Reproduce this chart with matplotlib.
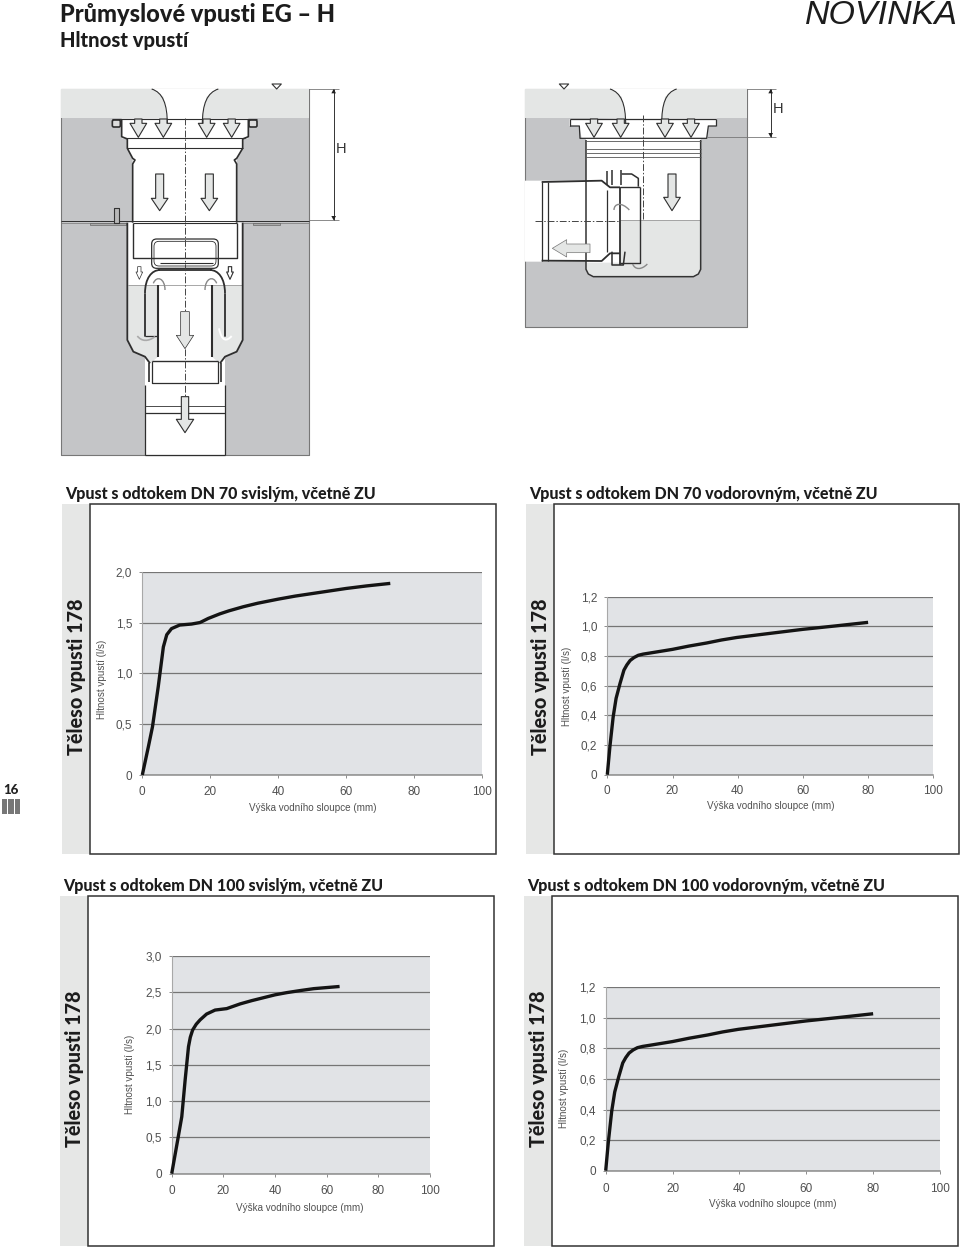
import matplotlib
matplotlib.use("Agg")
import matplotlib.pyplot as plt
from matplotlib.patches import Polygon, Rectangle, FancyBboxPatch, PathPatch
from matplotlib.path import Path

W, H = 960, 1247
DPI = 100

# ---------- data ----------
x_ticks = [0, 20, 40, 60, 80, 100]
x_tick_labels = ['0', '20', '40', '60', '80', '100']

dn70v_x = [0, 1.8, 3.0, 4.7, 6.2, 7.2, 8.6, 11, 14.5, 17, 19.4, 22.8, 25.5, 29.7, 34, 40, 45, 51, 60, 66, 73]
dn70v_y = [0, 0.28, 0.475, 0.87, 1.26, 1.38, 1.44, 1.475, 1.485, 1.5, 1.54, 1.585, 1.615, 1.655, 1.69, 1.73, 1.76, 1.79, 1.835, 1.86, 1.885]
dn70v_ticks = [0, 0.5, 1.0, 1.5, 2.0]
dn70v_labels = ['0', '0,5', '1,0', '1,5', '2,0']

dn70h_x = [0, 0.8, 1.8, 2.7, 3.9, 5.1, 6, 7, 8.2, 9.5, 11, 13, 20, 25, 30.5, 35, 39.7, 50, 60, 70, 80]
dn70h_y = [0, 0.19, 0.39, 0.515, 0.615, 0.705, 0.74, 0.77, 0.79, 0.805, 0.813, 0.82, 0.845, 0.867, 0.888, 0.908, 0.925, 0.953, 0.98, 1.003, 1.027]
dn70h_ticks = [0, 0.2, 0.4, 0.6, 0.8, 1.0, 1.2]
dn70h_labels = ['0', '0,2', '0,4', '0,6', '0,8', '1,0', '1,2']

dn100v_x = [0, 2.3, 3.9, 5.2, 6.5, 7.2, 8.1, 9.5, 11, 13.5, 16.8, 21.3, 26.5, 31, 35.5, 40, 44.5, 50, 55, 60, 65]
dn100v_y = [0, 0.46, 0.785, 1.29, 1.75, 1.88, 1.98, 2.06, 2.12, 2.2, 2.255, 2.275, 2.34, 2.385, 2.425, 2.465, 2.495, 2.525, 2.55, 2.565, 2.58]
dn100v_ticks = [0, 0.5, 1.0, 1.5, 2.0, 2.5, 3.0]
dn100v_labels = ['0', '0,5', '1,0', '1,5', '2,0', '2,5', '3,0']

dn100h_x = [0, 0.8, 1.8, 2.7, 3.9, 5.1, 6, 7, 8.2, 9.5, 11, 13, 20, 25, 30.5, 35, 39.7, 50, 60, 70, 80]
dn100h_y = [0, 0.19, 0.39, 0.515, 0.615, 0.705, 0.74, 0.77, 0.79, 0.805, 0.813, 0.82, 0.845, 0.867, 0.888, 0.908, 0.925, 0.953, 0.98, 1.003, 1.027]
dn100h_ticks = [0, 0.2, 0.4, 0.6, 0.8, 1.0, 1.2]
dn100h_labels = ['0', '0,2', '0,4', '0,6', '0,8', '1,0', '1,2']

x_label = 'Výška vodního sloupce (mm)'
y_label = 'Hltnost vpustí (l/s)'
strip_label = 'Těleso vpusti 178'
titles = ['Vpust s odtokem DN 70 svislým, včetně ZU',
          'Vpust s odtokem DN 70 vodorovným, včetně ZU',
          'Vpust s odtokem DN 100 svislým, včetně ZU',
          'Vpust s odtokem DN 100 vodorovným, včetně ZU']

# ---------- colours ----------
CONC = '#c4c5c7'
WATER = '#e4e6e5'
INK = '#2e2e2e'
PLOT = '#e1e3e6'
STRIP = '#e6e7e6'
TXT = '#505050'
HEAD = 'Lato'

fig = plt.figure(figsize=(W / DPI, H / DPI), dpi=DPI, facecolor='white')
ov = fig.add_axes([0, 0, 1, 1], zorder=0)
ov.set_xlim(0, W)
ov.set_ylim(H, 0)
ov.axis('off')


def make_z(ox, oy):
    return lambda pts: [(ox + x / 3, oy + y / 3) for x, y in pts]


def poly(z, pts, fc='none', ec='none', lw=1.0, zo=2, closed=True):
    ov.add_patch(Polygon(z(pts), closed=closed, facecolor=fc, edgecolor=ec, linewidth=lw,
                         zorder=zo, joinstyle='round'))


def line(z, pts, c=INK, lw=1.0, zo=4, ls='-'):
    p = z(pts)
    ov.plot([a for a, _ in p], [b for _, b in p], color=c, lw=lw, zorder=zo, ls=ls,
            solid_capstyle='butt', solid_joinstyle='round')


def curve(z, verts, codes, fc='none', ec=INK, lw=1.0, zo=4):
    ov.add_patch(PathPatch(Path(z(verts), codes), facecolor=fc, edgecolor=ec, linewidth=lw, zorder=zo))


def arrow_down(z, cx, top, bot, stem, head, headstart, fc=WATER, zo=6, lw=0.8):
    s, h = stem / 2, head / 2
    poly(z, [(cx - s, top), (cx + s, top), (cx + s, headstart), (cx + h, headstart), (cx, bot),
             (cx - h, headstart), (cx - s, headstart)], fc=fc, ec=INK, lw=lw, zo=zo)


def arrow_left(z, cy, right, left, stem, head, headstart, fc=WATER, zo=6, lw=0.5):
    s, h = stem / 2, head / 2
    poly(z, [(right, cy - s), (right, cy + s), (headstart, cy + s), (headstart, cy + h), (left, cy),
             (headstart, cy - h), (headstart, cy - s)], fc=fc, ec='#777777', lw=lw, zo=zo)


def dim(z, x, y0, y1):
    line(z, [(x, y0), (x, y1)], c='#333333', lw=0.7)
    poly(z, [(x - 7, y0 + 13), (x + 7, y0 + 13), (x, y0)], fc='#222222', zo=5)
    poly(z, [(x - 7, y1 - 13), (x + 7, y1 - 13), (x, y1)], fc='#222222', zo=5)


C = [Path.MOVETO, Path.CURVE4, Path.CURVE4, Path.CURVE4]

# ---------- drawing 1 (DN 70 vertical) ----------
z = make_z(50, 70)
poly(z, [(32, 57), (778, 57), (778, 1155), (32, 1155)], fc=CONC, ec='#777777', lw=0.8, zo=1)
poly(z, [(32, 57), (778, 57), (778, 145), (32, 145)], fc=WATER, zo=1.5)
poly(z, [(305, 57), (505, 57), (470, 80), (457, 145), (595, 145), (595, 205), (578, 205), (578, 235),
         (560, 265), (560, 458), (578, 458), (578, 810), (560, 845), (525, 860), (525, 1155),
         (285, 1155), (285, 860), (250, 845), (232, 810), (232, 458), (248, 458), (248, 265),
         (232, 235), (232, 205), (215, 205), (215, 145), (350, 145), (340, 80)],
     fc='white', zo=2)
poly(z, [(235, 645), (575, 645), (575, 810), (560, 843), (525, 858), (510, 880), (485, 860), (485, 645),
         (325, 645), (325, 860), (300, 880), (285, 858), (250, 843), (235, 810)], fc=WATER, zo=2.5)
line(z, [(235, 645), (575, 645)], c='#999999', lw=0.6)
curve(z, [(305, 57), (338, 68), (352, 100), (352, 165)], C, lw=0.8)
curve(z, [(505, 57), (472, 68), (457, 100), (457, 165)], C, lw=0.8)
line(z, [(185, 148), (622, 148)], lw=0.8)
line(z, [(215, 150), (215, 200), (232, 207), (232, 235), (248, 265), (255, 270), (248, 282), (248, 458)], lw=1.2)
line(z, [(595, 150), (595, 200), (578, 207), (578, 235), (560, 265), (553, 270), (560, 282), (560, 458)], lw=1.2)
line(z, [(225, 205), (585, 205)], lw=0.8)
line(z, [(232, 235), (578, 235)], lw=0.8)
ov.add_patch(FancyBboxPatch((50 + 187 / 3, 70 + 150 / 3), 8, 7, boxstyle='round,pad=0,rounding_size=1.5',
                            fc='#dddddd', ec=INK, lw=1.2, zorder=4))
ov.add_patch(FancyBboxPatch((50 + 597 / 3, 70 + 150 / 3), 8, 7, boxstyle='round,pad=0,rounding_size=1.5',
                            fc='#dddddd', ec=INK, lw=1.2, zorder=4))
for cx in (265, 340, 470, 545):
    arrow_down(z, cx, 147, 202, 22, 50, 160)
arrow_down(z, 329, 312, 422, 24, 50, 385)
arrow_down(z, 478, 312, 422, 24, 50, 385)
arrow_down(z, 405, 725, 836, 26, 52, 796, lw=0.5)
arrow_down(z, 405, 980, 1088, 22, 52, 1048)
arrow_down(z, 268, 590, 628, 10, 20, 606, fc='white', lw=0.5)
arrow_down(z, 540, 590, 628, 10, 20, 606, fc='white', lw=0.8)
line(z, [(32, 452), (778, 452)], lw=0.7)
line(z, [(32, 458), (232, 458)], c='#777777', lw=0.5)
line(z, [(578, 458), (778, 458)], c='#777777', lw=0.5)
poly(z, [(120, 459), (228, 459), (228, 465), (120, 465)], fc='#aaaaaa', ec='#555555', lw=0.4, zo=4)
poly(z, [(610, 459), (690, 459), (690, 465), (610, 465)], fc='#aaaaaa', ec='#555555', lw=0.4, zo=4)
poly(z, [(192, 415), (208, 415), (208, 458), (192, 458)], fc='#b8b8b8', ec='#333333', lw=0.8, zo=4)
line(z, [(232, 458), (232, 810), (250, 845), (285, 860), (300, 880)], lw=1.3)
line(z, [(578, 458), (578, 810), (560, 845), (525, 860), (510, 880)], lw=1.3)
line(z, [(248, 458), (248, 563), (560, 563), (560, 458)], lw=1.0)
line(z, [(248, 458), (560, 458)], lw=0.8)
for pad, lw in ((0, 0.9), (7, 0.6)):
    ov.add_patch(FancyBboxPatch((50 + (305 + pad) / 3, 70 + (507 + pad) / 3), (200 - 2 * pad) / 3, (88 - 2 * pad) / 3,
                                boxstyle='round,pad=0,rounding_size=5', fc='none', ec=INK, lw=lw, zorder=5))
line(z, [(330, 580), (490, 580)], lw=0.8)
line(z, [(325, 600), (485, 600)], lw=1.3)
curve(z, [(285, 800), (285, 740), (285, 700), (285, 670)], C, lw=1.3)
curve(z, [(285, 670), (285, 625), (305, 600), (330, 600)], C, lw=1.3)
curve(z, [(525, 800), (525, 740), (525, 700), (525, 670)], C, lw=1.3)
curve(z, [(525, 670), (525, 625), (505, 600), (480, 600)], C, lw=1.3)
line(z, [(285, 798), (323, 798)], lw=0.9)
line(z, [(324, 645), (324, 862)], lw=1.5)
line(z, [(487, 645), (487, 862)], lw=1.5)
line(z, [(305, 872), (505, 872)], lw=1.0)
line(z, [(305, 872), (305, 940), (505, 940), (505, 872)], lw=0.9)
line(z, [(296, 880), (296, 935)], lw=1.2)
line(z, [(514, 880), (514, 935)], lw=1.2)
line(z, [(285, 945), (285, 1155)], lw=0.9)
line(z, [(525, 945), (525, 1155)], lw=0.9)
line(z, [(285, 1007), (525, 1007)], lw=0.6)
line(z, [(285, 1030), (525, 1030)], lw=0.9)
line(z, [(285, 1155), (525, 1155)], lw=0.9)
curve(z, [(310, 640), (320, 615), (345, 625), (345, 660)], C, ec='#888888', lw=1.0, zo=6)
curve(z, [(500, 640), (490, 615), (465, 625), (465, 660)], C, ec='#888888', lw=1.0, zo=6)
curve(z, [(262, 798), (275, 815), (295, 815), (315, 800)], C, ec='#aaaaaa', lw=1.2, zo=6)
curve(z, [(545, 798), (530, 815), (515, 815), (507, 775)], C, ec='white', lw=1.4, zo=6)
line(z, [(404, 145), (404, 978)], c='#444444', lw=0.7, ls=(0, (7, 2, 1.5, 2)), zo=5)
poly(z, [(666, 42), (694, 42), (680, 57)], fc='white', ec='#333333', lw=0.8, zo=5)
line(z, [(778, 57), (868, 57)], c='#777777', lw=0.6)
line(z, [(778, 451), (868, 451)], c='#777777', lw=0.6)
dim(z, 851, 57, 451)
ov.text(50 + 873 / 3, 70 + 238 / 3, 'H', fontsize=10.5, family='Liberation Sans', color='#333333', ha='center', va='center')

# ---------- drawing 2 (DN 70 horizontal) ----------
z = make_z(510, 70)
poly(z, [(45, 57), (710, 57), (710, 772), (45, 772)], fc=CONC, ec='#777777', lw=0.8, zo=1)
poly(z, [(45, 57), (710, 57), (710, 145), (45, 145)], fc=WATER, zo=1.5)
poly(z, [(300, 57), (500, 57), (465, 80), (455, 145), (620, 145), (620, 168), (595, 168), (590, 205), (572, 205),
         (572, 600), (565, 612), (550, 620), (250, 620), (235, 612), (228, 600), (228, 575), (45, 575), (45, 332), (228, 332), (228, 205),
         (215, 205), (208, 168), (178, 168), (178, 148), (345, 145), (335, 80)], fc='white', zo=2)
poly(z, [(330, 450), (570, 450), (570, 598), (563, 610), (548, 618), (252, 618), (237, 610), (230, 598), (230, 578), (330, 578)], fc=WATER, zo=2.5)
line(z, [(330, 450), (570, 450)], c='#999999', lw=0.6)
curve(z, [(300, 57), (333, 68), (347, 100), (347, 165)], C, lw=0.8)
curve(z, [(500, 57), (467, 68), (455, 100), (455, 165)], C, lw=0.8)
line(z, [(180, 148), (618, 148)], lw=0.9)
line(z, [(180, 168), (208, 168), (210, 205), (590, 205), (595, 168), (618, 168)], lw=0.9)
line(z, [(180, 148), (180, 168)], lw=0.9)
line(z, [(618, 148), (618, 168)], lw=0.9)
line(z, [(228, 210), (228, 598), (235, 612), (250, 620), (550, 620), (565, 612), (572, 598), (572, 210)], c='#333333', lw=1.1)
for yy in (212, 238, 248, 262):
    line(z, [(228, yy), (572, yy)], c='#555555', lw=0.6)
for cx in (252, 332, 465, 543):
    arrow_down(z, cx, 147, 202, 22, 50, 160)
arrow_down(z, 486, 312, 422, 24, 50, 382)
poly(z, [(95, 336), (275, 332), (330, 370), (330, 545), (275, 573), (95, 572)], fc='white', zo=3)
line(z, [(95, 336), (275, 332), (300, 352), (330, 352)], lw=1.3)
line(z, [(95, 572), (275, 573), (300, 550), (330, 550)], lw=1.3)
line(z, [(95, 336), (95, 572)], lw=0.9)
line(z, [(115, 336), (115, 572)], lw=0.9)
line(z, [(290, 360), (290, 545)], lw=0.9)
line(z, [(330, 350), (330, 586)], lw=1.3)
line(z, [(390, 350), (390, 580), (330, 580)], lw=1.0)
line(z, [(330, 350), (390, 350)], lw=1.0)
line(z, [(335, 312), (365, 312), (385, 325), (385, 350)], lw=1.1)
line(z, [(292, 302), (292, 345)], lw=1.1)
line(z, [(306, 300), (306, 345)], lw=1.1)
line(z, [(332, 300), (332, 345)], lw=1.1)
line(z, [(306, 545), (306, 585), (340, 585), (345, 545)], lw=1.1)
arrow_left(z, 535, 240, 127, 26, 52, 170)
curve(z, [(312, 420), (312, 400), (335, 395), (358, 420)], C, ec='#888888', lw=1.0, zo=6)
curve(z, [(368, 582), (375, 600), (395, 600), (412, 582)], C, ec='#888888', lw=1.0, zo=6)
line(z, [(400, 135), (400, 450)], c='#444444', lw=0.7, ls=(0, (7, 2, 1.5, 2)), zo=5)
line(z, [(75, 452), (330, 452)], c='#444444', lw=0.7, ls=(0, (7, 2, 1.5, 2)), zo=5)
poly(z, [(148, 42), (176, 42), (162, 57)], fc='white', ec='#333333', lw=0.8, zo=5)
line(z, [(710, 57), (798, 57)], c='#777777', lw=0.6)
line(z, [(590, 202), (798, 202)], c='#777777', lw=0.6)
dim(z, 782, 57, 202)
ov.text(510 + 805 / 3, 70 + 118 / 3, 'H', fontsize=10.5, family='Liberation Sans', color='#333333', ha='center', va='center')

# ---------- header ----------
ov.text(60, 14, 'Průmyslové vpusti EG – H', fontsize=17, fontweight='black', family=HEAD, color='#1c1c1c', va='center')
ov.text(60, 41, 'Hltnost vpustí', fontsize=14.6, fontweight='black', family=HEAD, color='#1c1c1c', va='center')
ov.text(958, 16, 'NOVINKA', fontsize=24.5, style='italic', family='Liberation Sans', color='#1c1c1c', ha='right', va='center')

# ---------- page marker ----------
ov.text(11, 790, '16', fontsize=9.5, fontweight='black', family=HEAD, color='#222222', ha='center', va='center')
for bx in (2, 8.3, 14.6):
    ov.add_patch(Rectangle((bx, 799), 5.4, 15, fc='#777777', ec='none', zorder=3))


# ---------- charts ----------
def panel(box, strip_x, strip_cx, strip_cy, title, title_xy, plot_px, xs, ys, ymax, yt, yl,
          xlab_xy, ylab_xy, xpad):
    x0, y0, x1, y1 = box
    ov.add_patch(Rectangle((strip_x, y0), x0 - strip_x, y1 - y0, fc=STRIP, ec='none', zorder=1))
    ov.add_patch(Rectangle((x0, y0), x1 - x0, y1 - y0, fc='white', ec='#333333', lw=1.1, zorder=2))
    ov.text(title_xy[0], title_xy[1], title, fontsize=11.55, fontweight='black', family=HEAD,
            color='#1c1c1c', va='center')
    ov.text(strip_cx, strip_cy, strip_label, rotation=90, fontsize=14.2, fontweight='black', family=HEAD,
            color='#1c1c1c', ha='center', va='center')
    px0, py0, px1, py1 = plot_px
    ax = fig.add_axes([px0 / W, 1 - py1 / H, (px1 - px0) / W, (py1 - py0) / H], zorder=3, facecolor=PLOT)
    ax.set_xlim(0, 100)
    ax.set_ylim(0, ymax)
    ax.set_xticks(x_ticks, x_tick_labels)
    ax.set_yticks(yt, yl)
    ax.grid(axis='y', color='#757575', lw=0.9, zorder=1)
    ax.plot(xs, ys, color='#141414', lw=2.4, solid_joinstyle='round', solid_capstyle='butt', zorder=5, clip_on=False)
    for s in ('top', 'right'):
        ax.spines[s].set_visible(False)
    ax.spines['left'].set_color('#a8a8a8')
    ax.spines['left'].set_linewidth(0.8)
    ax.spines['bottom'].set_color('#8c8c8c')
    ax.spines['bottom'].set_linewidth(1.1)
    ax.tick_params(axis='x', direction='out', length=2.2, width=0.7, color='#8c8c8c', labelsize=8.5,
                   labelcolor=TXT, pad=xpad)
    ax.tick_params(axis='y', direction='out', length=2.2, width=0.7, color='#8c8c8c', labelsize=8.5,
                   labelcolor=TXT, pad=5)
    for t in ax.get_xticklabels() + ax.get_yticklabels():
        t.set_family('Liberation Sans')
    ax.set_xlabel(x_label, fontsize=7.15, color=TXT, family='Liberation Sans', va='center')
    ax.set_ylabel(y_label, fontsize=7.15, color=TXT, family='Liberation Sans', va='center')
    ax.xaxis.set_label_coords(xlab_xy[0], xlab_xy[1], transform=ov.transData)
    ax.yaxis.set_label_coords(ylab_xy[0], ylab_xy[1], transform=ov.transData)
    return ax


panel((90, 504, 496, 854), 62, 76, 676.5, titles[0], (65, 494), (142.3, 571.7, 482, 775), dn70v_x, dn70v_y, 2.0,
      dn70v_ticks, dn70v_labels, (312.3, 808), (101.6, 679), 5.4)
panel((554.3, 504, 959.3, 854), 526, 540, 676.5, titles[1], (529, 494), (607.3, 596.7, 933.3, 774.7), dn70h_x, dn70h_y, 1.2,
      dn70h_ticks, dn70h_labels, (771, 806), (567, 686), 5)
panel((88, 895.7, 493.7, 1246), 60, 74, 1069, titles[2], (63, 886), (171.7, 956, 430, 1173.7), dn100v_x, dn100v_y, 3.0,
      dn100v_ticks, dn100v_labels, (300, 1208), (130, 1074), 6.2)
panel((552.3, 895.7, 957.7, 1246), 524, 538.5, 1069, titles[3], (527, 886), (605.7, 987.3, 940, 1170.7), dn100h_x, dn100h_y, 1.2,
      dn100h_ticks, dn100h_labels, (773, 1204), (564, 1088), 7)

fig.savefig('out.png', dpi=DPI, facecolor='white')
